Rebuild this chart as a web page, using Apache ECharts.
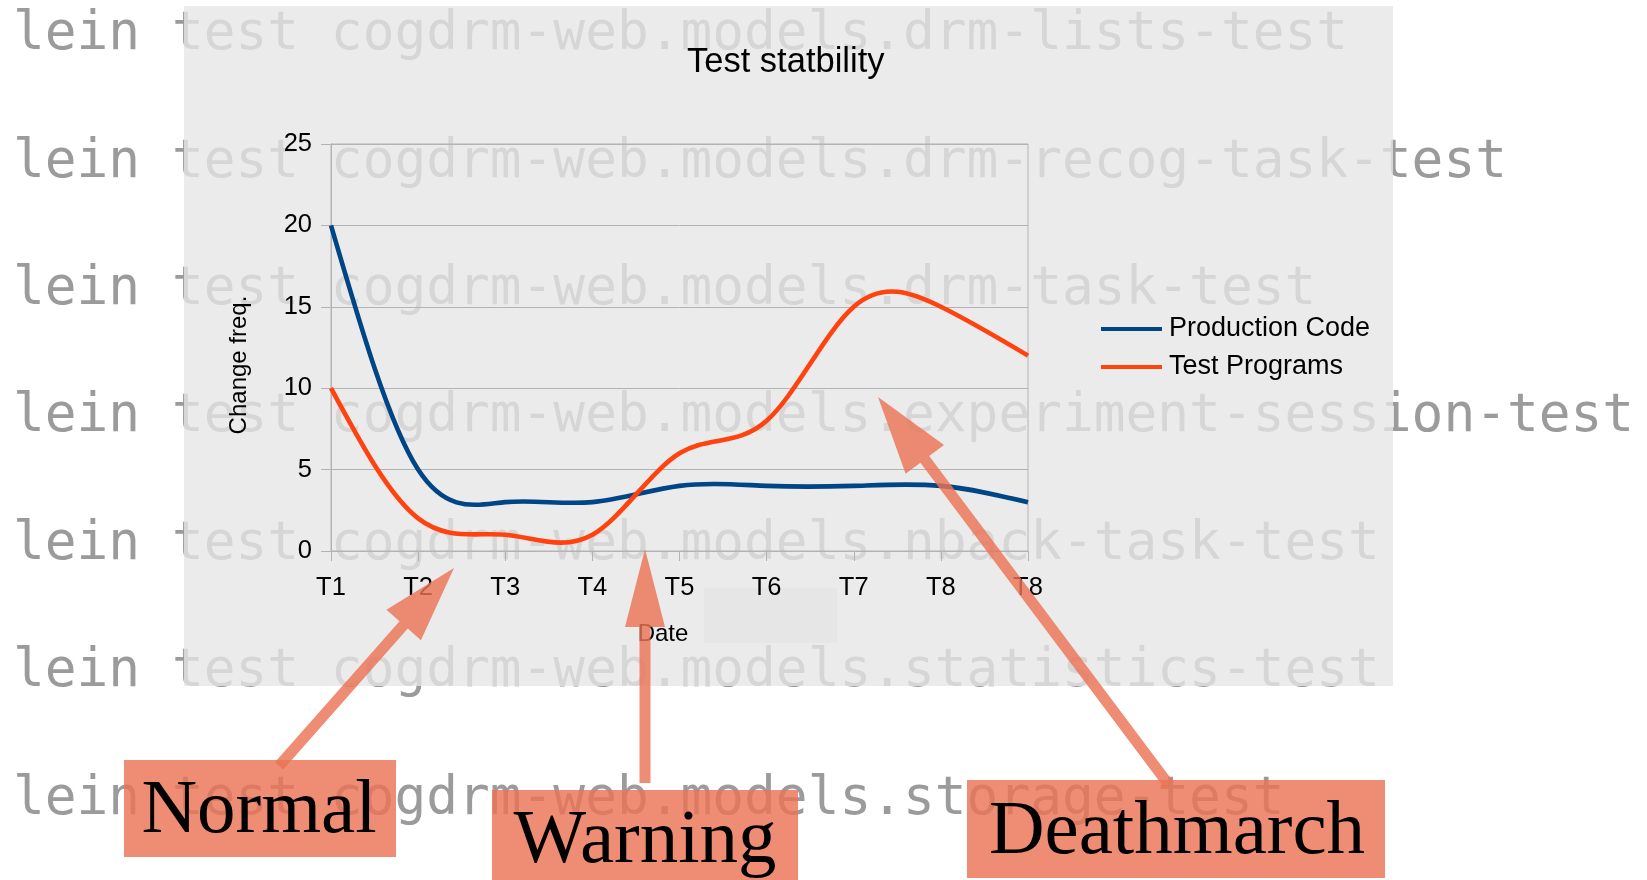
<!DOCTYPE html>
<html><head><meta charset="utf-8">
<script src="https://cdn.jsdelivr.net/npm/echarts@6/dist/echarts.min.js"></script>
<style>html,body{margin:0;padding:0;background:#fff}#c{width:1647px;height:880px}</style>
</head><body><div id="c"></div>
<script>
// ---- data ----
const categories = ['T1', 'T2', 'T3', 'T4', 'T5', 'T6', 'T7', 'T8', 'T8'];
const productionCode = [20, 5, 3, 3, 4, 4, 4, 4, 3];
const testPrograms = [10, 2, 1, 1, 6, 8, 15, 15, 12];
const seriesNames = ['Production Code', 'Test Programs'];
const yTicks = [0, 5, 10, 15, 20, 25];
const chartTitle = 'Test statbility';
const yAxisTitle = 'Change freq.';
const xAxisTitle = 'Date';
const consoleLines = [
  'lein test cogdrm-web.models.drm-lists-test',
  'lein test cogdrm-web.models.drm-recog-task-test',
  'lein test cogdrm-web.models.drm-task-test',
  'lein test cogdrm-web.models.experiment-session-test',
  'lein test cogdrm-web.models.nback-task-test',
  'lein test cogdrm-web.models.statistics-test',
  'lein test cogdrm-web.models.storage-test'
];
const annotationLabels = ['Normal', 'Warning', 'Deathmarch'];

// ---- layout / style ----
const SANS = '"Liberation Sans", Arial, sans-serif';
const SERIF = '"Liberation Serif", "Times New Roman", serif';
const MONO = '"DejaVu Sans Mono", monospace';
const GRIDC = '#b3b3b3';
const SALMON = 'rgba(236,116,86,0.82)';
const COLORS = ['#004586', '#ff420e'];

// natural cubic spline slopes (unit spacing), used only to render the curve
function splineSlopes(y) {
  const n = y.length;
  const M = new Array(n).fill(0);
  if (n > 2) {
    const m = n - 2, a = [], b = [], c = [], d = [];
    for (let i = 1; i <= m; i++) {
      a.push(1); b.push(4); c.push(1);
      d.push(6 * (y[i + 1] - 2 * y[i] + y[i - 1]));
    }
    for (let i = 1; i < m; i++) {
      const w = a[i] / b[i - 1];
      b[i] -= w * c[i - 1];
      d[i] -= w * d[i - 1];
    }
    const sol = new Array(m);
    sol[m - 1] = d[m - 1] / b[m - 1];
    for (let i = m - 2; i >= 0; i--) sol[i] = (d[i] - c[i] * sol[i + 1]) / b[i];
    for (let i = 0; i < m; i++) M[i + 1] = sol[i];
  }
  const s = [];
  for (let i = 0; i < n - 1; i++) s.push((y[i + 1] - y[i]) - (2 * M[i] + M[i + 1]) / 6);
  s.push((y[n - 1] - y[n - 2]) + (M[n - 2] + 2 * M[n - 1]) / 6);
  return s;
}

function makeSplineSeries(name, values, color) {
  const slopes = splineSlopes(values);
  return {
    name: name, type: 'custom', coordinateSystem: 'cartesian2d', clip: false,
    itemStyle: { color: color },
    encode: { x: 0, y: 1 },
    data: values.map((v, i) => [i, v]),
    renderItem: function (params, api) {
      if (params.dataIndex !== 0) return;
      const pts = values.map((v, i) => api.coord([i, v]));
      let d = 'M' + pts[0][0] + ' ' + pts[0][1];
      for (let i = 0; i < values.length - 1; i++) {
        const x0 = pts[i][0], x1 = pts[i + 1][0];
        const c1y = api.coord([i, values[i] + slopes[i] / 3])[1];
        const c2y = api.coord([i + 1, values[i + 1] - slopes[i + 1] / 3])[1];
        d += ' C' + (x0 + (x1 - x0) / 3) + ' ' + c1y + ' ' + (x0 + 2 * (x1 - x0) / 3) + ' ' + c2y + ' ' + x1 + ' ' + pts[i + 1][1];
      }
      return {
        type: 'path', shape: { pathData: d },
        style: { fill: 'none', stroke: color, lineWidth: 4.6, lineJoin: 'round', lineCap: 'butt' }
      };
    }
  };
}

function arrowPoints(tail, tip, shaftW, headL, headW) {
  const dx = tip[0] - tail[0], dy = tip[1] - tail[1];
  const len = Math.hypot(dx, dy);
  const ux = dx / len, uy = dy / len, px = -uy, py = ux;
  const bx = tip[0] - ux * headL, by = tip[1] - uy * headL;
  return [
    [tail[0] + px * shaftW / 2, tail[1] + py * shaftW / 2],
    [bx + px * shaftW / 2, by + py * shaftW / 2],
    [bx + px * headW / 2, by + py * headW / 2],
    [tip[0], tip[1]],
    [bx - px * headW / 2, by - py * headW / 2],
    [bx - px * shaftW / 2, by - py * shaftW / 2],
    [tail[0] - px * shaftW / 2, tail[1] - py * shaftW / 2]
  ];
}

const graphics = [];
consoleLines.forEach((t, i) => {
  graphics.push({
    type: 'text', x: 13, y: 35.5 + i * 127.4, z: -3,
    style: { text: t, fill: '#9b9b9b', fontSize: 52.8, fontFamily: MONO, align: 'left', verticalAlign: 'middle' }
  });
});
graphics.push({
  type: 'rect', z: -2, shape: { x: 184, y: 6, width: 1209, height: 680 },
  style: { fill: 'rgba(230,230,230,0.79)' }
});
graphics.push({
  type: 'rect', z: -1, shape: { x: 704, y: 588, width: 133, height: 55 },
  style: { fill: 'rgba(215,215,215,0.25)' }
});
graphics.push({
  type: 'text', x: 239, y: 365, rotation: Math.PI / 2, z: 1,
  style: { text: yAxisTitle, fill: '#000', fontSize: 24, fontFamily: SANS, align: 'center', verticalAlign: 'middle' }
});
graphics.push({
  type: 'text', x: 663, y: 634, z: 1,
  style: { text: xAxisTitle, fill: '#000', fontSize: 24, fontFamily: SANS, align: 'center', verticalAlign: 'middle' }
});
const arrows = [
  arrowPoints([279, 766], [454, 568], 11, 76, 46),
  arrowPoints([645, 783], [645, 549], 11, 78, 40),
  arrowPoints([1169, 785], [878, 397], 11, 78, 48)
];
arrows.forEach(p => graphics.push({ type: 'polygon', z: 100, shape: { points: p }, style: { fill: SALMON } }));
const boxes = [
  { r: [124, 760, 272, 97], c: [259, 812] },
  { r: [492, 790, 306, 95], c: [645, 842] },
  { r: [967, 780, 418, 98], c: [1177, 833] }
];
boxes.forEach((b, i) => {
  graphics.push({ type: 'rect', z: 100, shape: { x: b.r[0], y: b.r[1], width: b.r[2], height: b.r[3] }, style: { fill: SALMON } });
  graphics.push({
    type: 'text', z: 101, x: b.c[0], y: b.c[1],
    style: { text: annotationLabels[i], fill: '#000', fontSize: 77, fontFamily: SERIF, align: 'center', verticalAlign: 'middle' }
  });
});

const chart = echarts.init(document.getElementById('c'), null, { renderer: 'canvas' });
chart.setOption({
  backgroundColor: '#ffffff',
  animation: false,
  title: {
    text: chartTitle, left: 687, top: 45, padding: 0,
    textStyle: { fontSize: 34.5, fontWeight: 'normal', fontFamily: SANS, color: '#000' }
  },
  legend: {
    left: 1101, top: 314, orient: 'vertical', padding: 0, itemGap: 8,
    itemWidth: 61, itemHeight: 4, icon: 'rect',
    data: seriesNames,
    textStyle: { fontSize: 27, fontFamily: SANS, color: '#000', lineHeight: 30, padding: [0, 0, 0, 2] }
  },
  grid: {
    left: 331, top: 144, width: 697, height: 407, show: true,
    borderColor: GRIDC, borderWidth: 1, backgroundColor: 'transparent'
  },
  xAxis: {
    type: 'category', data: categories, boundaryGap: false,
    axisLine: { lineStyle: { color: GRIDC, width: 1 } },
    axisTick: { show: true, length: 10, inside: false, lineStyle: { color: GRIDC } },
    axisLabel: { fontSize: 25.5, fontFamily: SANS, color: '#000', margin: 24 },
    splitLine: { show: false }
  },
  yAxis: {
    type: 'value', min: yTicks[0], max: yTicks[yTicks.length - 1], interval: yTicks[1] - yTicks[0],
    axisLine: { show: true, lineStyle: { color: GRIDC, width: 1 } },
    axisTick: { show: true, length: 10, inside: false, lineStyle: { color: GRIDC } },
    axisLabel: { fontSize: 25.5, fontFamily: SANS, color: '#000', margin: 19, padding: [4, 0, 0, 0] },
    splitLine: { show: true, lineStyle: { color: GRIDC, width: 1 } }
  },
  series: [
    makeSplineSeries(seriesNames[0], productionCode, COLORS[0]),
    makeSplineSeries(seriesNames[1], testPrograms, COLORS[1])
  ],
  graphic: { elements: graphics }
});
</script>
</body></html>
